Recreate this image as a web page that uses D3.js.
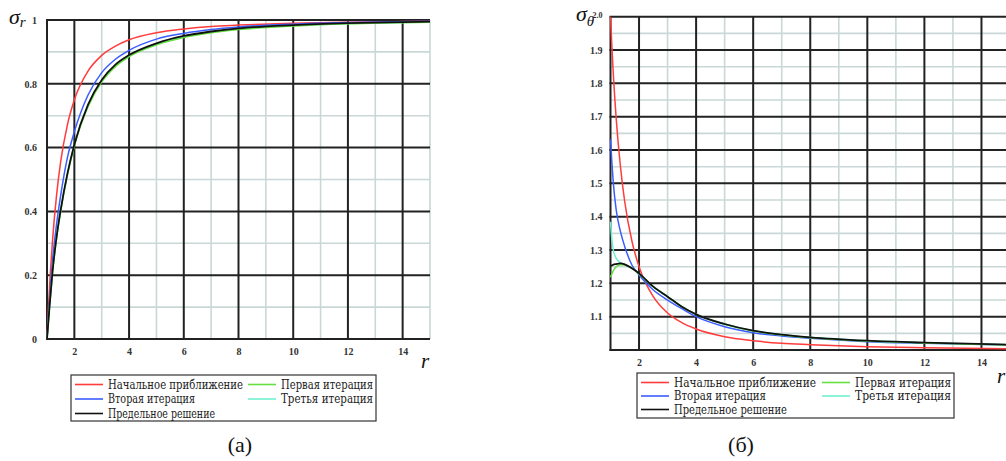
<!DOCTYPE html>
<html lang="ru">
<head>
<meta charset="UTF-8">
<title>sigma</title>
<script src="https://d3js.org/d3.v7.min.js"></script>
<style>
  body { margin: 0; background: #fff; }
</style>
</head>
<body>
<svg width="1006" height="461"></svg>
<script>
// радиус (общие узлы для обеих панелей)
var rValues = [1, 1.05, 1.1, 1.2, 1.35, 1.5, 1.75, 2, 2.5, 3, 3.5, 4, 5, 6, 7, 8, 10, 12, 15];

// (а) sigma_r
var srInitial = [0, 0.093, 0.174, 0.306, 0.451, 0.556, 0.673, 0.75, 0.84, 0.889, 0.918, 0.938, 0.96, 0.972, 0.98, 0.984, 0.99, 0.993, 0.996];
var srFirst   = [0, 0.054, 0.108, 0.207, 0.316, 0.4, 0.515, 0.605, 0.728, 0.806, 0.854, 0.885, 0.922, 0.945, 0.96, 0.97, 0.981, 0.988, 0.993];
var srSecond  = [0, 0.07, 0.13, 0.245, 0.36, 0.45, 0.57, 0.65, 0.765, 0.835, 0.877, 0.905, 0.94, 0.958, 0.97, 0.978, 0.987, 0.992, 0.996];
var srThird   = [0, 0.055, 0.11, 0.209, 0.318, 0.403, 0.518, 0.608, 0.732, 0.81, 0.858, 0.888, 0.925, 0.948, 0.962, 0.972, 0.983, 0.989, 0.994];
var srLimit   = [0, 0.055, 0.11, 0.21, 0.32, 0.405, 0.52, 0.61, 0.735, 0.812, 0.86, 0.89, 0.927, 0.95, 0.964, 0.974, 0.984, 0.99, 0.995];

// (б) sigma_theta
var stInitial = [2.0, 1.907, 1.826, 1.694, 1.549, 1.444, 1.327, 1.25, 1.16, 1.111, 1.082, 1.063, 1.04, 1.028, 1.02, 1.016, 1.01, 1.007, 1.004];
var stFirst   = [1.218, 1.229, 1.238, 1.25, 1.256, 1.255, 1.245, 1.228, 1.19, 1.16, 1.13, 1.107, 1.077, 1.057, 1.045, 1.037, 1.027, 1.021, 1.015];
var stSecond  = [1.632, 1.56, 1.5, 1.42, 1.355, 1.31, 1.255, 1.225, 1.18, 1.15, 1.124, 1.1, 1.07, 1.052, 1.042, 1.035, 1.025, 1.02, 1.015];
var stThird   = [1.385, 1.33, 1.3, 1.275, 1.262, 1.256, 1.245, 1.229, 1.19, 1.16, 1.13, 1.107, 1.078, 1.058, 1.046, 1.038, 1.028, 1.022, 1.016];
var stLimit   = [1.253, 1.254, 1.256, 1.258, 1.26, 1.257, 1.245, 1.23, 1.19, 1.16, 1.13, 1.107, 1.078, 1.058, 1.046, 1.038, 1.028, 1.022, 1.016];

// подписи осей
var xMajor = [2, 4, 6, 8, 10, 12, 14];
var xMinor = [3, 5, 7, 9, 11, 13, 15];
var yMajorA = [0, 0.2, 0.4, 0.6, 0.8, 1];
var yMinorA = [0.1, 0.3, 0.5, 0.7, 0.9];
var yMajorB = [1.1, 1.2, 1.3, 1.4, 1.5, 1.6, 1.7, 1.8, 1.9, 2.0];
var yMinorB = [1.05, 1.15, 1.25, 1.35, 1.45, 1.55, 1.65, 1.75, 1.85, 1.95];

var seriesNames = ["Начальное приближение", "Первая итерация", "Вторая итерация", "Третья итерация", "Предельное решение"];
var seriesColors = ["#ff3b3b", "#66e040", "#3b5cff", "#70f0d0", "#111111"];

var SERIF = "'Liberation Serif', 'Times New Roman', 'DejaVu Serif', serif";
var LEGEND_FONT = "'DejaVu Serif', 'Liberation Serif', serif";

var svg = d3.select("svg");

function drawPanel(p) {
    var x = d3.scaleLinear().domain([1, 15]).range([p.left, p.right]);
    var y = d3.scaleLinear().domain(p.yDomain).range([p.bottom, p.top]);
    var g = svg.append("g");

    // мелкая сетка
    g.selectAll(".vmin").data(xMinor).enter().append("line")
        .attr("x1", d => x(d)).attr("x2", d => x(d))
        .attr("y1", p.top).attr("y2", p.bottom)
        .attr("stroke", "#c9d8d6").attr("stroke-width", 1.6);
    g.selectAll(".hmin").data(p.yMinor).enter().append("line")
        .attr("x1", p.left).attr("x2", p.right)
        .attr("y1", d => y(d)).attr("y2", d => y(d))
        .attr("stroke", "#c9d8d6").attr("stroke-width", 1.6);

    // основная сетка
    g.selectAll(".vmaj").data([1].concat(xMajor)).enter().append("line")
        .attr("x1", d => x(d)).attr("x2", d => x(d))
        .attr("y1", p.top).attr("y2", p.bottom + 1)
        .attr("stroke", "#222").attr("stroke-width", 2);
    g.selectAll(".hmaj").data([p.yDomain[0]].concat(p.yMajor)).enter().append("line")
        .attr("x1", p.left - 1).attr("x2", p.right)
        .attr("y1", d => y(d)).attr("y2", d => y(d))
        .attr("stroke", "#222").attr("stroke-width", 2);

    // подписи
    var ax = g.append("g").attr("transform", "translate(0," + (p.bottom + 6) + ")")
        .call(d3.axisBottom(x).tickValues(xMajor).tickSize(0).tickFormat(d3.format("d")));
    var ay = g.append("g").attr("transform", "translate(" + (p.left - p.yLabelGap) + ",0)")
        .call(d3.axisLeft(y).tickValues(p.yLabels).tickSize(0).tickFormat(p.fmt));
    [ax, ay].forEach(function(a) {
        a.select(".domain").remove();
        a.selectAll("text")
            .style("font-family", SERIF).style("font-size", "10px")
            .style("font-weight", "bold").style("fill", "#333");
    });
    if (p.topLabelSize) {
        ay.selectAll(".tick").filter(d => d === p.yDomain[1]).select("text")
            .style("font-size", p.topLabelSize + "px").attr("dy", "0.1em");
    }

    // кривые
    var line = d3.line().curve(d3.curveMonotoneX)
        .x((d, i) => x(rValues[i])).y(d => y(d));
    var order = [0, 2, 3, 1, 4];
    order.forEach(function(k) {
        g.append("path").datum(p.series[k])
            .attr("fill", "none")
            .attr("stroke", seriesColors[k])
            .attr("stroke-width", k === 4 ? 1.8 : 1.5)
            .attr("d", line);
    });

    // легенда
    var lg = g.append("g");
    lg.append("rect").attr("x", p.lgX).attr("y", p.lgY)
        .attr("width", p.lgW).attr("height", p.lgH)
        .attr("fill", "#fff").attr("stroke", "#333").attr("stroke-width", 1.2);
    var pos = [[0, 0], [1, 0], [0, 1], [1, 1], [0, 2]];
    seriesNames.forEach(function(name, k) {
        var cx = p.lgX + 4 + pos[k][0] * p.lgCol;
        var cy = p.lgY + 9.5 + pos[k][1] * p.lgRow;
        lg.append("line").attr("x1", cx).attr("x2", cx + 28)
            .attr("y1", cy).attr("y2", cy)
            .attr("stroke", seriesColors[k]).attr("stroke-width", 1.6);
        lg.append("text").attr("x", cx + 33).attr("y", cy + 4)
            .attr("textLength", p.lgLen[k]).attr("lengthAdjust", "spacingAndGlyphs")
            .style("font-family", LEGEND_FONT).style("font-size", "12px").style("fill", "#222")
            .text(name);
    });
}

drawPanel({
    left: 47, right: 430, top: 20, bottom: 339,
    yDomain: [0, 1], yMajor: yMajorA.slice(1), yMinor: yMinorA,
    yLabels: yMajorA, yLabelGap: 7,
    fmt: d => d === 0 || d === 1 ? String(d) : d3.format(".1f")(d),
    series: [srInitial, srFirst, srSecond, srThird, srLimit],
    lgX: 71, lgY: 375, lgW: 305, lgH: 46, lgCol: 173, lgRow: 14.5,
    lgLen: [135, 92, 87, 92, 107]
});

drawPanel({
    left: 610.5, right: 1010, top: 16.7, bottom: 350,
    yDomain: [1, 2], yMajor: yMajorB, yMinor: yMinorB,
    yLabels: yMajorB, yLabelGap: 5, topLabelSize: 8,
    fmt: d3.format(".1f"),
    series: [stInitial, stFirst, stSecond, stThird, stLimit],
    lgX: 637, lgY: 373, lgW: 317, lgH: 45, lgCol: 181, lgRow: 13.5,
    lgLen: [142, 96, 92, 96, 113]
});

// обозначения величин
function symbol(xp, yp, main, sub, dy) {
    var t = svg.append("text").attr("x", xp).attr("y", yp)
        .style("font-family", SERIF).style("font-style", "italic").style("fill", "#111")
        .style("font-size", "22px");
    t.append("tspan").text(main);
    t.append("tspan").style("font-size", "15px").attr("dy", dy).text(sub);
}
symbol(9, 24, "σ", "r", 3);
symbol(576, 21, "σ", "θ", 5);

function label(xp, yp, txt, size, italic) {
    svg.append("text").attr("x", xp).attr("y", yp).attr("text-anchor", "middle")
        .style("font-family", SERIF).style("font-style", italic ? "italic" : "normal")
        .style("font-size", size + "px").style("fill", "#111").text(txt);
}
label(425, 368, "r", 21, true);
label(1001, 383, "r", 21, true);
label(240, 452, "(а)", 22, false);
label(741, 452, "(б)", 22, false);
</script>
</body>
</html>
